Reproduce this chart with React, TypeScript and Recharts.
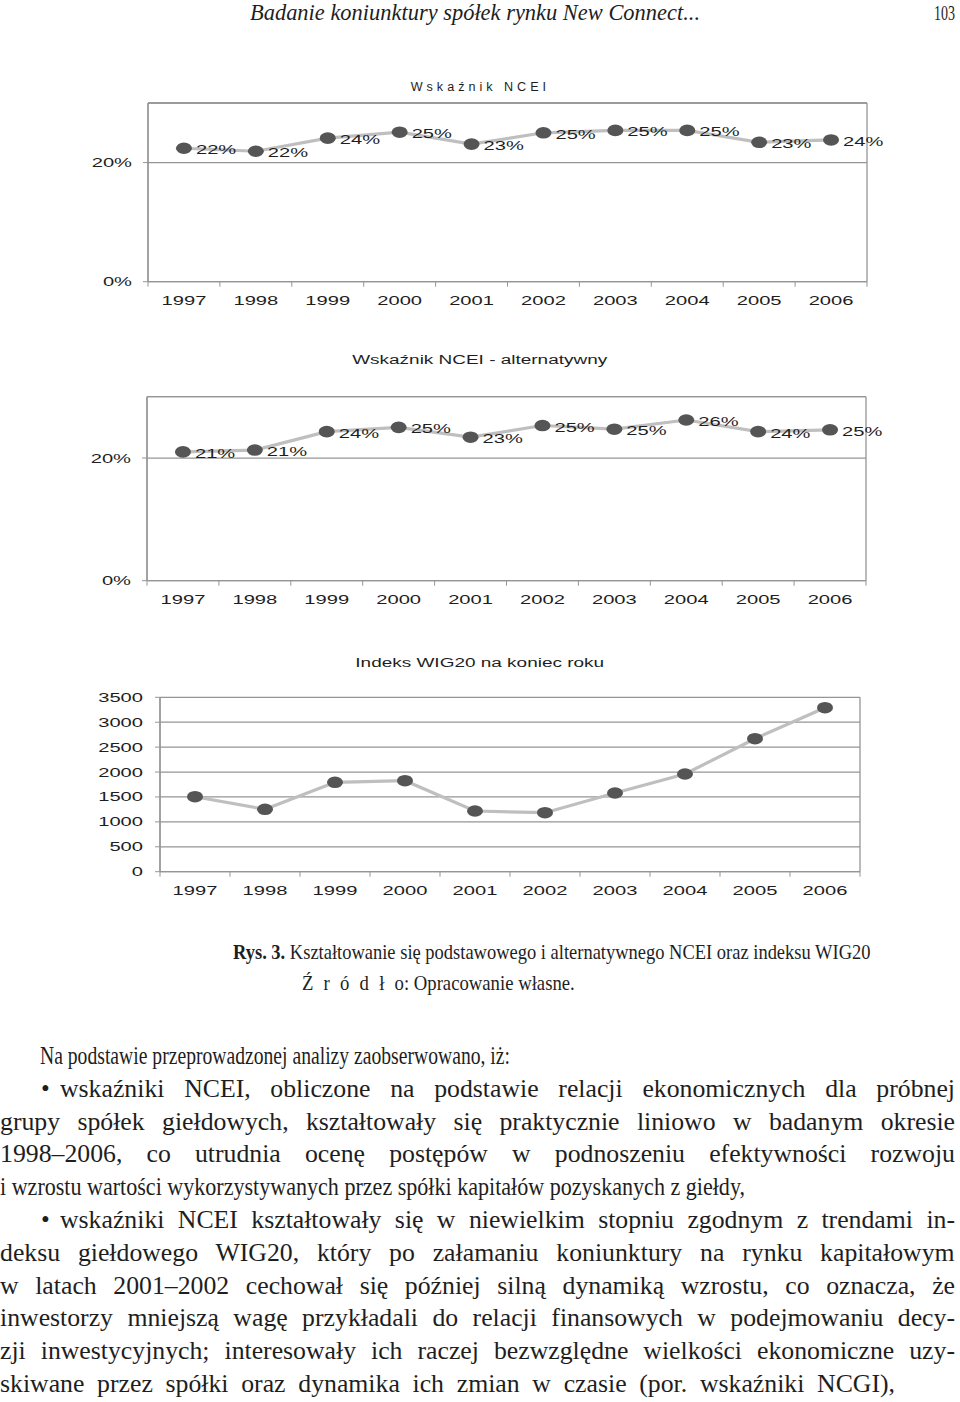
import { CartesianGrid, LabelList, Line, LineChart, ReferenceLine, XAxis, YAxis } from 'recharts';

const YEARS = ['1997', '1998', '1999', '2000', '2001', '2002', '2003', '2004', '2005', '2006'];
const NCEI = [0.224, 0.219, 0.241, 0.251, 0.231, 0.25, 0.254, 0.254, 0.234, 0.238];
const NCEI_ALT = [0.21, 0.213, 0.243, 0.25, 0.234, 0.253, 0.247, 0.262, 0.243, 0.246];
const WIG20 = [1505, 1252, 1794, 1826, 1218, 1184, 1579, 1961, 2669, 3291];

const PCT_TICKS = [0, 0.2];
const PCT_MAX = 0.3;
const WIG_TICKS = [0, 500, 1000, 1500, 2000, 2500, 3000, 3500];

const GRID = '#959595';
const LINE = '#bfbfbf';
const DOT = '#555555';
const INK = '#1e1e1e';
const SANS = '"Liberation Sans", Arial, sans-serif';
const SERIF = '"Liberation Serif", "Times New Roman", serif';
const SX = 1.55; // chart text in the scan is stretched sideways

const pctData = YEARS.map((year, i) => ({ year, v: NCEI[i] }));
const altData = YEARS.map((year, i) => ({ year, v: NCEI_ALT[i] }));
const wigData = YEARS.map((year, i) => ({ year, v: WIG20[i] }));

const pct = (v: number) => `${Math.round(v * 100)}%`;

let measureCtx: CanvasRenderingContext2D | null = null;
function textWidth(text: string, font: string): number {
  if (!measureCtx) measureCtx = document.createElement('canvas').getContext('2d');
  if (!measureCtx) return text.length * 10;
  measureCtx.font = font;
  return measureCtx.measureText(text).width;
}

function SText({ x, y, anchor, children }: any) {
  return (
    <text
      transform={`translate(${x},${y}) scale(${SX},1)`}
      textAnchor={anchor}
      fontFamily={SANS}
      fontSize={13}
      fill={INK}
    >
      {children}
    </text>
  );
}

function makeXTick(half: number) {
  return (props: any) => {
    const { x, y, payload, index, visibleTicksCount } = props;
    return (
      <g>
        <line x1={x - half} x2={x - half} y1={y} y2={y + 5} stroke={GRID} />
        {index === visibleTicksCount - 1 && <line x1={x + half} x2={x + half} y1={y} y2={y + 5} stroke={GRID} />}
        <SText x={x} y={y + 23} anchor="middle">
          {payload.value}
        </SText>
      </g>
    );
  };
}

function makeYTick(fmt: (v: number) => string) {
  return (props: any) => (
    <SText x={props.x} y={props.y + 4.5} anchor="end">
      {fmt(props.payload.value)}
    </SText>
  );
}

function EllipseDot(props: any) {
  const { cx, cy } = props;
  if (cx == null || cy == null) return null;
  return <ellipse cx={cx} cy={cy} rx={8} ry={5.8} fill={DOT} />;
}

function ValueLabel(props: any) {
  const { x, y, value } = props;
  return (
    <SText x={x + 12} y={y + 6} anchor="start">
      {pct(value)}
    </SText>
  );
}

const edges = ({ offset }: any) => [offset.left, offset.left + offset.width];

function PctChart({ data, height, top, bottom, left, right }: any) {
  const plotW = 960 - left - right;
  const half = plotW / YEARS.length / 2;
  return (
    <LineChart width={960} height={height} data={data} margin={{ top, right, bottom, left: 0 }}>
      <CartesianGrid stroke={GRID} strokeWidth={1.3} verticalCoordinatesGenerator={edges} />
      <ReferenceLine y={PCT_MAX} stroke={GRID} strokeWidth={1.3} />
      <XAxis
        dataKey="year"
        interval={0}
        padding={{ left: half, right: half }}
        tickLine={false}
        tickSize={0}
        tickMargin={0}
        height={30}
        axisLine={{ stroke: GRID, strokeWidth: 1.3 }}
        tick={makeXTick(half)}
      />
      <YAxis
        type="number"
        domain={[0, PCT_MAX]}
        ticks={PCT_TICKS}
        width={left}
        tickSize={5}
        tickMargin={11}
        axisLine={{ stroke: GRID, strokeWidth: 1.3 }}
        tickLine={{ stroke: GRID }}
        tick={makeYTick(pct)}
      />
      <Line
        dataKey="v"
        stroke={LINE}
        strokeWidth={3.2}
        dot={<EllipseDot />}
        activeDot={false}
        isAnimationActive={false}
      >
        <LabelList dataKey="v" content={<ValueLabel />} />
      </Line>
    </LineChart>
  );
}

function WigChart() {
  const left = 160;
  const right = 100;
  const half = (960 - left - right) / YEARS.length / 2;
  return (
    <LineChart width={960} height={260} data={wigData} margin={{ top: 47.3, right, bottom: 8.3, left: 0 }}>
      <CartesianGrid stroke={GRID} strokeWidth={1.3} verticalCoordinatesGenerator={edges} />
      <XAxis
        dataKey="year"
        interval={0}
        padding={{ left: half, right: half }}
        tickLine={false}
        tickSize={0}
        tickMargin={0}
        height={30}
        axisLine={{ stroke: GRID, strokeWidth: 1.3 }}
        tick={makeXTick(half)}
      />
      <YAxis
        type="number"
        domain={[0, 3500]}
        ticks={WIG_TICKS}
        width={left}
        tickSize={5}
        tickMargin={12}
        axisLine={{ stroke: GRID, strokeWidth: 1.3 }}
        tickLine={{ stroke: GRID }}
        tick={makeYTick((v) => String(v))}
      />
      <Line
        dataKey="v"
        stroke={LINE}
        strokeWidth={3.2}
        dot={<EllipseDot />}
        activeDot={false}
        isAnimationActive={false}
      />
    </LineChart>
  );
}

function Title({ y, children, spacing = 0, sx = 1.58 }: any) {
  return (
    <div style={{ position: 'absolute', left: 0, top: y - 8, width: 960, textAlign: 'center' }}>
      <span
        style={{
          display: 'inline-block',
          fontFamily: SANS,
          fontSize: 12,
          lineHeight: '16px',
          letterSpacing: spacing,
          color: INK,
          transform: `scaleX(${sx})`,
        }}
      >
        {children}
      </span>
    </div>
  );
}

// a serif line made to span x0..x1 like the scanned page: squeezed if too long,
// otherwise capped at maxScale and the rest taken up by wider word gaps
function FitLine({ text, x0, x1, top, size = 25, italic = false, height = 32.8, maxScale = 1.03 }: any) {
  const font = `${italic ? 'italic ' : ''}${size}px "Liberation Serif"`;
  const natural = textWidth(text, font);
  const target = x1 - x0;
  const s = Math.min(target / natural, maxScale);
  const gaps = (text.match(/ /g) || []).length;
  const wordSpacing = gaps ? (target / s - natural) / gaps : 0;
  return (
    <div
      style={{
        position: 'absolute',
        left: x0,
        top,
        height,
        lineHeight: `${height}px`,
        fontFamily: SERIF,
        fontStyle: italic ? 'italic' : 'normal',
        fontSize: size,
        whiteSpace: 'nowrap',
        wordSpacing,
        color: INK,
        transform: `scaleX(${s})`,
        transformOrigin: '0 0',
      }}
    >
      {text}
    </div>
  );
}

// text, left edge, right edge, bullet in front
const BODY_LINES: [string, number, number, boolean][] = [
  ['Na podstawie przeprowadzonej analizy zaobserwowano, iż:', 40, 510, false],
  ['wskaźniki NCEI, obliczone na podstawie relacji ekonomicznych dla próbnej', 60, 955, true],
  ['grupy spółek giełdowych, kształtowały się praktycznie liniowo w badanym okresie', 0, 955, false],
  ['1998–2006, co utrudnia ocenę postępów w podnoszeniu efektywności rozwoju', 0, 955, false],
  ['i wzrostu wartości wykorzystywanych przez spółki kapitałów pozyskanych z giełdy,', 0, 745, false],
  ['wskaźniki NCEI kształtowały się w niewielkim stopniu zgodnym z trendami in-', 60, 955, true],
  ['deksu giełdowego WIG20, który po załamaniu koniunktury na rynku kapitałowym', 0, 955, false],
  ['w latach 2001–2002 cechował się później silną dynamiką wzrostu, co oznacza, że', 0, 955, false],
  ['inwestorzy mniejszą wagę przykładali do relacji finansowych w podejmowaniu decy-', 0, 955, false],
  ['zji inwestycyjnych; interesowały ich raczej bezwzględne wielkości ekonomiczne uzy-', 0, 955, false],
  ['skiwane przez spółki oraz dynamika ich zmian w czasie (por. wskaźniki NCGI),', 0, 895, false],
];

const serifBox = (s: number): any => ({
  position: 'absolute',
  fontFamily: SERIF,
  whiteSpace: 'nowrap',
  color: INK,
  transform: `scaleX(${s})`,
  transformOrigin: '0 0',
});

export default function App() {
  return (
    <div style={{ position: 'absolute', left: 0, top: 0, width: 960, height: 1402, background: '#fff', overflow: 'hidden' }}>
      <FitLine text="Badanie koniunktury spółek rynku New Connect..." x0={250} x1={700} top={0} size={23} italic height={26} maxScale={2} />
      <FitLine text="103" x0={934} x1={955} top={0} size={22} height={26} maxScale={2} />

      <Title y={85} spacing={3.8} sx={1.05}>
        Wskaźnik NCEI
      </Title>
      <div style={{ position: 'absolute', left: 0, top: 60 }}>
        <PctChart data={pctData} height={260} top={43} bottom={8.3} left={148} right={93} />
      </div>

      <Title y={358}>Wskaźnik NCEI - alternatywny</Title>
      <div style={{ position: 'absolute', left: 0, top: 350 }}>
        <PctChart data={altData} height={270} top={46.7} bottom={9.3} left={147} right={94} />
      </div>

      <Title y={661}>Indeks WIG20 na koniec roku</Title>
      <div style={{ position: 'absolute', left: 0, top: 650 }}>
        <WigChart />
      </div>

      <div style={{ ...serifBox(0.84), left: 233, top: 938, fontSize: 22, lineHeight: '28px' }}>
        <b>Rys. 3.</b> Kształtowanie się podstawowego i alternatywnego NCEI oraz indeksu WIG20
      </div>
      <div style={{ ...serifBox(0.85), left: 302, top: 969, fontSize: 22, lineHeight: '28px' }}>
        <span style={{ letterSpacing: 12 }}>Źródł</span>o: Opracowanie własne.
      </div>

      {BODY_LINES.map(([text, x0, x1, bullet], i) => (
        <div key={i}>
          {bullet && (
            <div
              style={{
                position: 'absolute',
                left: 41,
                top: 1040 + i * 32.8,
                lineHeight: '32.8px',
                fontFamily: SERIF,
                fontSize: 25,
                color: INK,
              }}
            >
              •
            </div>
          )}
          <FitLine text={text} x0={x0} x1={x1} top={1040 + i * 32.8} />
        </div>
      ))}
    </div>
  );
}
